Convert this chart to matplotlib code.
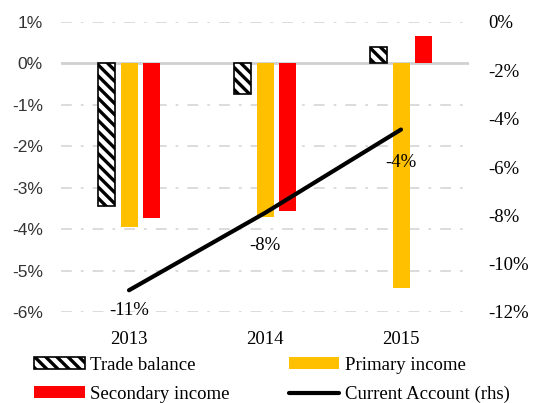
import numpy as np
from matplotlib import pyplot as plt
from matplotlib.ticker import FuncFormatter

years = ["2013", "2014", "2015"]
trade_balance = [-3.43, -0.73, 0.39]
primary_income = [-3.94, -3.70, -5.43]
secondary_income = [-3.73, -3.57, 0.66]
current_account = [-11.1, -7.9, -4.45]
ca_labels = ["-11%", "-8%", "-4%"]

serif = "Liberation Serif"
sans = "Liberation Sans"
plt.rcParams['hatch.linewidth'] = 2.4

fig = plt.figure(figsize=(5.33, 4.03), dpi=100)
ax = fig.add_axes([61 / 533, 1 - 312 / 403, 408 / 533, 290 / 403])
ax2 = ax.twinx()

x = np.arange(len(years))
width = 0.125
off = 0.167

ax.bar(x - off, trade_balance, width, color='white', edgecolor='black',
       hatch='\\\\\\', linewidth=1.2, label='Trade balance', zorder=3)
ax.bar(x, primary_income, width, color='#FFC000', label='Primary income', zorder=3)
ax.bar(x + off, secondary_income, width, color='#FF0000', label='Secondary income', zorder=3)

# gridlines (dash-dot) and a solid zero line
for v in range(-6, 2):
    if v == 0:
        ax.axhline(0, color='#D0D0D0', linewidth=2.0, zorder=2)
    else:
        ax.axhline(v, color='#D9D9D9', linewidth=1.3, linestyle=(0, (6, 5, 1.5, 5)), zorder=1)

ax.set_xlim(-0.5, 2.5)
ax.set_ylim(-6, 1)
ax.set_yticks(range(-6, 2))
ax.yaxis.set_major_formatter(FuncFormatter(lambda v, p: f"{v:.0f}%"))
ax.set_xticks(x, years)
ax.tick_params(axis='y', length=0, pad=13, labelsize=12.5, labelcolor='#333333')
ax.tick_params(axis='x', length=0, pad=14)
for t in ax.get_yticklabels():
    t.set_fontfamily(sans)
for t in ax.get_xticklabels():
    t.set_fontfamily(serif)
    t.set_fontsize(13.5)

line, = ax2.plot(x, current_account, color='black', linewidth=3,
                 solid_capstyle='round', label='Current Account (rhs)', zorder=4)
ax2.set_ylim(-12, 0)
ax2.set_yticks(range(-12, 1, 2))
ax2.yaxis.set_major_formatter(FuncFormatter(lambda v, p: f"{v:.0f}%"))
ax2.tick_params(axis='y', length=0, pad=14, labelsize=13.5)
for t in ax2.get_yticklabels():
    t.set_fontfamily(serif)

offsets = [-14.5, -23.8, -23.5]
for xi, yi, lab, dy in zip(x, current_account, ca_labels, offsets):
    ax2.annotate(lab, (xi, yi), xytext=(0, dy), textcoords='offset points',
                 ha='center', va='center', fontsize=13.5, family=serif)

for a in (ax, ax2):
    for s in a.spines.values():
        s.set_visible(False)

h1, l1 = ax.get_legend_handles_labels()
handles = [h1[0], h1[2], h1[1], line]
labels = [l1[0], l1[2], l1[1], 'Current Account (rhs)']
fig.legend(handles, labels, ncol=2, loc='upper left', bbox_to_anchor=(34 / 533, 1 - 357 / 403),
           frameon=False, borderpad=0, borderaxespad=0, handlelength=2.7, handleheight=0.6,
           handletextpad=0.3, columnspacing=3.15, labelspacing=0.62,
           prop={'family': serif, 'size': 13.5})

fig.savefig('out.png', dpi=100)
